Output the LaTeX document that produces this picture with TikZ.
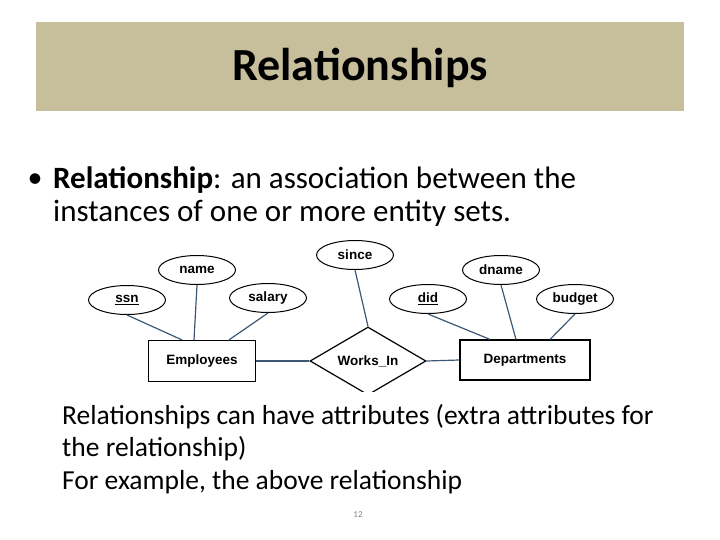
\documentclass[tikz,border=0pt]{standalone}
\usepackage{fontspec}
\setmainfont{Carlito}
\newfontfamily\arialfont{Liberation Sans}
\usetikzlibrary{shapes.geometric}
\usetikzlibrary{positioning}
\definecolor{headtan}{HTML}{C7BF9C}
\definecolor{linkblue}{HTML}{3D5875}
\tikzset{
    x=1pt, y=-1pt,
    attr/.style={ % Attribute ellipses
        ellipse, draw, line width=1pt, minimum width=77pt, minimum height=29pt,
        inner sep=0pt, font=\arialfont\bfseries\fontsize{13.5}{16}\selectfont
    },
    entity/.style={ % Entity sets
        draw, line width=1.2pt, inner sep=3pt, font=\arialfont\bfseries\fontsize{13.5}{16}\selectfont
    },
    rel/.style={ % Relationship diamond
        diamond, draw, line width=1.2pt, aspect=1.7, inner sep=1pt,
        font=\arialfont\bfseries\fontsize{13.5}{16}\selectfont
    },
    link/.style={draw=linkblue, line width=1.2pt}
}
\begin{document}
\begin{tikzpicture}
    \useasboundingbox (0,0) rectangle (720,540);
    \fill[headtan] (36,22) rectangle (684,111);
    \node[font=\fontsize{46}{54}\selectfont\bfseries] (title) at (360,68) {Relationships};

    \node[anchor=west, font=\fontsize{30}{36}\selectfont] (bullet) at (24,181) {\textbullet};
    \node[anchor=west, align=left, inner sep=0pt, font=\fontsize{31}{33}\selectfont] (def) at (53,197)
        {\textbf{Relationship}: an association between the\\
         instances of one or more entity sets.};

    % entities and relationship
    \node[entity, minimum width=107pt, minimum height=41pt] (emp) at (202,361) {Employees};
    \node[entity, minimum width=130pt, minimum height=40pt] (dept) at (525,360) {Departments};
    \node[rel, minimum width=116pt, minimum height=68pt] (works) at (368,361) {Works\_In};

    % attributes
    \node[attr] (ssn) at (127,300) {\underline{ssn}};
    \node[attr] (name) at (197,270) {name};
    \node[attr] (salary) at (268,298) {salary};
    \node[attr] (since) at (355,255) {since};
    \node[attr] (did) at (428,299) {\underline{did}};
    \node[attr] (dname) at (501,270) {dname};
    \node[attr] (budget) at (575,299) {budget};

    \draw[link] (ssn.south) -- (emp.north -| 182,0);
    \draw[link] (name.south) -- (emp.north -| 194,0);
    \draw[link] (salary.south) -- (emp.north -| 229,0);
    \draw[link] (since.south) -- (works.north);
    \draw[link] (did.south) -- (dept.north -| 490,0);
    \draw[link] (dname.south) -- (dept.north -| 516,0);
    \draw[link] (budget.south) -- (dept.north -| 550,0);
    \draw[link] (emp.east) -- (works.west);
    \draw[link] (works.east) -- (dept.west);

    \fill[white] (300,392) rectangle (440,400);
    \node[anchor=west, align=left, inner sep=0pt, font=\fontsize{27.5}{32.5}\selectfont] (note) at (62,449)
        {Relationships can have attributes (extra attributes for\\
         the relationship)\\ For example, the above relationship};
    \node[text=gray, font=\fontsize{9}{10}\selectfont] (page) at (358,515) {12};
\end{tikzpicture}
\end{document}
